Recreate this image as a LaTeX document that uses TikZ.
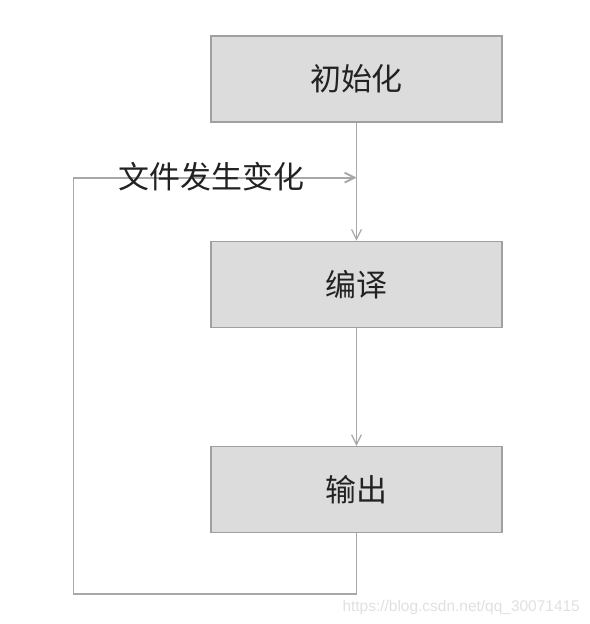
\documentclass[tikz,border=0pt]{standalone}
\usepackage{fontspec}
\setmainfont{Noto Sans CJK SC}
\newfontfamily\urlfont{Liberation Sans}
\usetikzlibrary{positioning,arrows.meta}
\definecolor{boxfill}{HTML}{DCDCDC}
\definecolor{boxline}{HTML}{A0A0A0}
\definecolor{flowline}{HTML}{A8A8A8}
\definecolor{txt}{HTML}{222222}

\begin{document}
\begin{tikzpicture}[
    node distance=2.95cm,
    block/.style={draw=boxline, fill=boxfill, line width=0.9pt, rectangle, minimum width=7.275cm, minimum height=2.15cm, align=center, text=txt, font=\fontsize{22}{25}\selectfont},
    arrow/.style={-{Straight Barb[length=7pt, width=7pt]}, draw=flowline, line width=0.9pt},
    loopline/.style={arrow, line width=1.3pt},
    label/.style={inner sep=0pt, text=txt, font=\fontsize{22}{25}\selectfont}
]
\useasboundingbox (0,0) rectangle (14.725,15.6);
\node[block] (init) at (8.9125,13.625) {初始化};
\node[block, below=of init] (compile) {编译};
\node[block, below=of compile] (output) {输出};

\coordinate[below=1.375cm of init.south] (merge);
\coordinate[below=1.52cm of output.south] (loopbot);
\coordinate[left=7.075cm of loopbot] (loopleft);

\draw[arrow] (init) -- (compile);
\draw[arrow] (compile) -- (output);
\draw[loopline] (output.south) -- (loopbot) -- (loopleft) |- (merge);

\node[label, left=1.3cm of merge, yshift=1pt] (change) {文件发生变化};
\node[text=black!12, font=\urlfont\fontsize{11}{13}\selectfont, anchor=east] (wm) at (14.62,0.4) {https://blog.csdn.net/qq\_30071415};
\end{tikzpicture}
\end{document}
